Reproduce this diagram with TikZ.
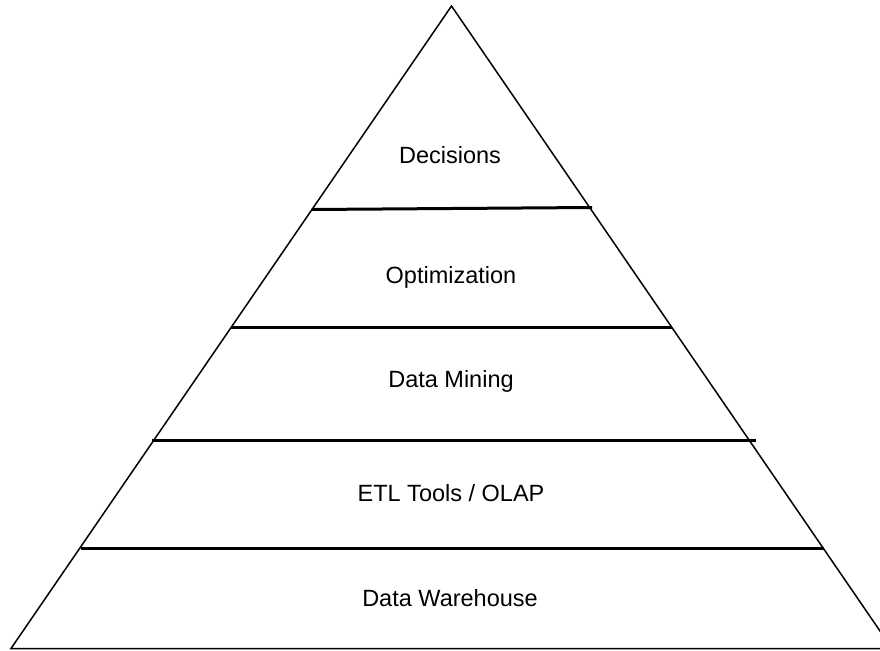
\documentclass[tikz,border=0pt]{standalone}
\usepackage{fontspec}
\setmainfont{Liberation Sans}
\tikzset{
  edge/.style={line width=1.5pt, line join=miter},
  tier/.style={line width=3pt},
  label/.style={anchor=base, inner sep=0pt, font=\fontsize{23.5}{28}\selectfont}
}
\begin{document}
\begin{tikzpicture}[x=1pt, y=-1pt]
  \useasboundingbox (0,0) rectangle (880,650);
  \clip (0,0) rectangle (880,650);

  % outline of the pyramid
  \coordinate (apex) at (451.5,6);
  \coordinate (bl) at (11,648.5);
  \coordinate (br) at (892,648.5);
  \draw[edge] (bl) -- (apex) -- (br) -- cycle;

  % dividers between tiers
  \coordinate (d1l) at (312,209.5);  \coordinate (d1r) at (592,207.5);
  \coordinate (d2l) at (231,327.5);  \coordinate (d2r) at (672,327.5);
  \coordinate (d3l) at (152,440.5);  \coordinate (d3r) at (756,440.5);
  \coordinate (d4l) at (81,548.5);   \coordinate (d4r) at (824,548.5);
  \draw[tier] (d1l) -- (d1r);
  \draw[tier] (d2l) -- (d2r);
  \draw[tier] (d3l) -- (d3r);
  \draw[tier] (d4l) -- (d4r);

  % tier labels
  \node[label] (decisions) at (450,163.5) {Decisions};
  \node[label] (optim)     at (451,283.5) {Optimization};
  \node[label] (mining)    at (451,387.5) {Data Mining};
  \node[label] (etl)       at (451,501.5) {ETL Tools / OLAP};
  \node[label] (dwh)       at (450,606.5) {Data Warehouse};
\end{tikzpicture}
\end{document}
